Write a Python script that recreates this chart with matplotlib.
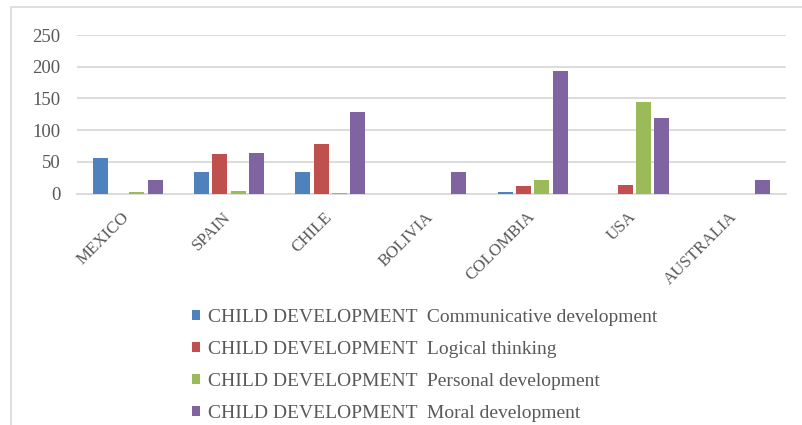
import matplotlib.pyplot as plt
import matplotlib.transforms as mtransforms
import numpy as np
from matplotlib.patches import Rectangle

countries = ["MEXICO", "SPAIN", "CHILE", "BOLIVIA", "COLOMBIA", "USA", "AUSTRALIA"]
communicative = [57, 34, 34, 0, 2, 0, 0]
logical = [0, 63, 78, 0, 12, 14, 0]
personal = [2, 5, 1, 0, 21, 145, 0]
moral = [21, 64, 129, 34, 193, 120, 21]

series = [
    ("CHILD DEVELOPMENT  Communicative development", communicative, "#4F81BD"),
    ("CHILD DEVELOPMENT  Logical thinking", logical, "#C0504D"),
    ("CHILD DEVELOPMENT  Personal development", personal, "#9BBB59"),
    ("CHILD DEVELOPMENT  Moral development", moral, "#8064A2"),
]

plt.rcParams["font.family"] = ["Liberation Serif", "DejaVu Serif"]
text_color = "#595959"

fig = plt.figure(figsize=(8.03, 4.25), dpi=100)
ax = fig.add_axes([0.0959, 0.5442, 0.8831, 0.3734])

# light frame around the chart area
fig.patches.append(Rectangle((11.5 / 803, -0.1), 1.2, 1.1 - 6.5 / 425,
                             transform=fig.transFigure, fill=False,
                             edgecolor="#D9D9D9", linewidth=1.2))

x = np.arange(len(countries))
step = 0.18
width = 0.148
for i, (name, vals, color) in enumerate(series):
    ax.bar(x + (i - 1.5) * step, vals, width, color=color, label=name, zorder=3)

ax.set_xlim(-0.5, len(countries) - 0.5)
ax.set_ylim(0, 250)
ax.set_yticks(range(0, 251, 50))
ax.yaxis.grid(True, color="#D9D9D9", linewidth=1.3, zorder=0)
for side in ["top", "right", "left"]:
    ax.spines[side].set_visible(False)
ax.spines["bottom"].set_color("#D9D9D9")
ax.spines["bottom"].set_linewidth(1.3)
ax.tick_params(axis="both", length=0, colors=text_color, labelsize=13.5)
ax.tick_params(axis="y", pad=12)
ax.set_xticks(x)
ax.set_xticklabels(countries, rotation=45, ha="right", va="top",
                   rotation_mode="anchor", fontsize=12.2)
ax.tick_params(axis="x", pad=11)
shift = mtransforms.ScaledTranslation(-6 / 100, 0, fig.dpi_scale_trans)
for lbl in ax.get_xticklabels():
    lbl.set_transform(lbl.get_transform() + shift)

leg = fig.legend(loc="upper left", bbox_to_anchor=(0.239, 0.274),
                 frameon=False, fontsize=14, labelcolor=text_color,
                 handlelength=0.42, handleheight=0.42, handletextpad=0.4,
                 labelspacing=0.78, borderpad=0, borderaxespad=0)

fig.savefig("out.png", dpi=100, facecolor="white")
